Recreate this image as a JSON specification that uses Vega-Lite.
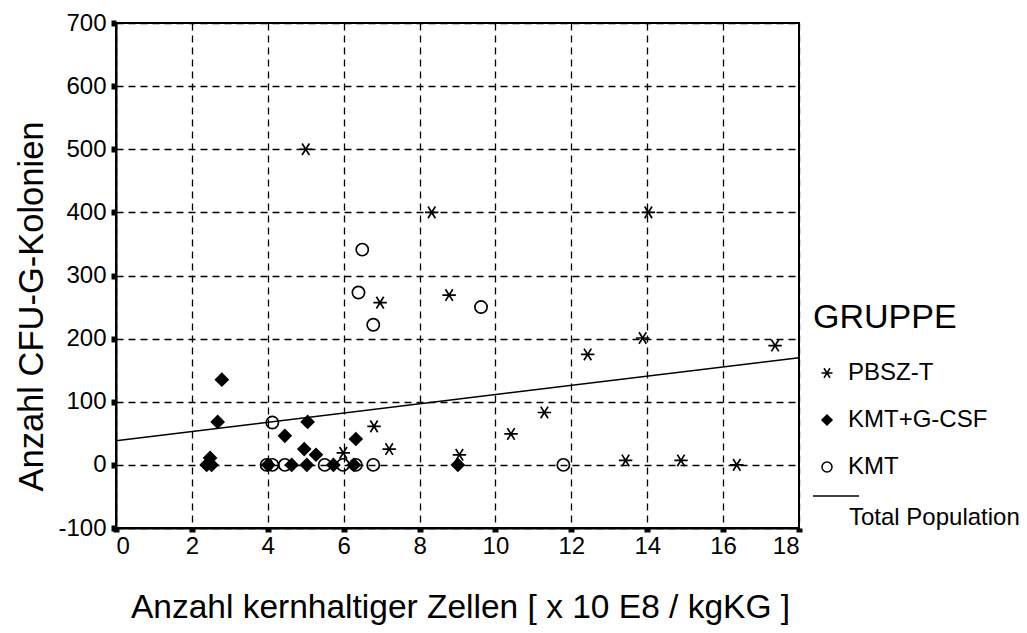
{
  "$schema": "https://vega.github.io/schema/vega-lite/v6.json",
  "width": 683,
  "height": 505,
  "autosize": "none",
  "padding": {"left": 116, "top": 23, "right": 228, "bottom": 105},
  "background": "white",
  "config": {
    "font": "Liberation Sans",
    "view": {"stroke": "black", "strokeWidth": 2},
    "axis": {
      "domainColor": "black",
      "domainWidth": 2,
      "tickColor": "black",
      "labelColor": "black",
      "labelFontSize": 24,
      "titleColor": "black",
      "titleFontWeight": "normal",
      "grid": true,
      "gridColor": "black",
      "gridDash": [7, 5],
      "gridWidth": 1.3,
      "gridOpacity": 1
    },
    "axisX": {"tickSize": 4, "tickWidth": 6, "labelPadding": 2, "titleFontSize": 33.5},
    "axisY": {"tickSize": 5, "tickWidth": 6, "labelPadding": 5, "titleFontSize": 34.5},
    "legend": {
      "titleFontSize": 34,
      "titleFontWeight": "normal",
      "titleColor": "black",
      "labelFontSize": 24,
      "labelColor": "black",
      "labelLimit": 400,
      "symbolStrokeColor": "black",
      "symbolStrokeWidth": 1.5,
      "symbolOpacity": 1,
      "padding": 0,
      "offset": 0
    }
  },
  "layer": [
    {
      "data": {
        "values": [
          {"x": 0, "y": 38.4, "serie": "Total Population"},
          {"x": 18, "y": 169.6, "serie": "Total Population"}
        ]
      },
      "mark": {"type": "line", "strokeWidth": 1.5},
      "encoding": {
        "x": {"field": "x", "type": "quantitative"},
        "y": {"field": "y", "type": "quantitative"},
        "stroke": {
          "field": "serie",
          "type": "nominal",
          "scale": {"range": ["black"]},
          "legend": {
            "title": null,
            "orient": "none",
            "legendX": 696,
            "legendY": 449,
            "symbolType": "stroke",
            "symbolSize": 2116,
            "symbolOffset": 0,
            "labelOffset": -11,
            "labelLimit": 400,
            "encoding": {"labels": {"dy": {"value": 22}}}
          }
        }
      }
    },
    {
      "data": {
        "values": [
          {"x": 5.0, "y": 500, "gruppe": "PBSZ-T"},
          {"x": 8.32, "y": 400, "gruppe": "PBSZ-T"},
          {"x": 14.03, "y": 400, "gruppe": "PBSZ-T"},
          {"x": 8.78, "y": 269, "gruppe": "PBSZ-T"},
          {"x": 6.96, "y": 257, "gruppe": "PBSZ-T"},
          {"x": 13.88, "y": 201, "gruppe": "PBSZ-T"},
          {"x": 17.37, "y": 189, "gruppe": "PBSZ-T"},
          {"x": 12.43, "y": 175, "gruppe": "PBSZ-T"},
          {"x": 11.29, "y": 83, "gruppe": "PBSZ-T"},
          {"x": 6.8, "y": 61, "gruppe": "PBSZ-T"},
          {"x": 10.41, "y": 49, "gruppe": "PBSZ-T"},
          {"x": 7.2, "y": 25, "gruppe": "PBSZ-T"},
          {"x": 5.99, "y": 19, "gruppe": "PBSZ-T"},
          {"x": 9.05, "y": 16, "gruppe": "PBSZ-T"},
          {"x": 13.43, "y": 7, "gruppe": "PBSZ-T"},
          {"x": 14.89, "y": 7, "gruppe": "PBSZ-T"},
          {"x": 16.36, "y": 0, "gruppe": "PBSZ-T"},
          {"x": 2.79, "y": 135, "gruppe": "KMT+G-CSF"},
          {"x": 2.68, "y": 68, "gruppe": "KMT+G-CSF"},
          {"x": 5.05, "y": 68, "gruppe": "KMT+G-CSF"},
          {"x": 4.45, "y": 46, "gruppe": "KMT+G-CSF"},
          {"x": 6.32, "y": 41, "gruppe": "KMT+G-CSF"},
          {"x": 4.96, "y": 25, "gruppe": "KMT+G-CSF"},
          {"x": 5.27, "y": 16, "gruppe": "KMT+G-CSF"},
          {"x": 2.48, "y": 11, "gruppe": "KMT+G-CSF"},
          {"x": 2.39, "y": 0, "gruppe": "KMT+G-CSF"},
          {"x": 2.52, "y": 0, "gruppe": "KMT+G-CSF"},
          {"x": 4.01, "y": 0, "gruppe": "KMT+G-CSF"},
          {"x": 4.63, "y": 0, "gruppe": "KMT+G-CSF"},
          {"x": 5.03, "y": 0, "gruppe": "KMT+G-CSF"},
          {"x": 5.73, "y": 0, "gruppe": "KMT+G-CSF"},
          {"x": 6.27, "y": 0, "gruppe": "KMT+G-CSF"},
          {"x": 9.01, "y": 0, "gruppe": "KMT+G-CSF"},
          {"x": 6.49, "y": 341, "gruppe": "KMT"},
          {"x": 6.39, "y": 273, "gruppe": "KMT"},
          {"x": 6.78, "y": 222, "gruppe": "KMT"},
          {"x": 9.62, "y": 250, "gruppe": "KMT"},
          {"x": 4.12, "y": 67, "gruppe": "KMT"},
          {"x": 3.97, "y": 0, "gruppe": "KMT"},
          {"x": 4.12, "y": 0, "gruppe": "KMT"},
          {"x": 4.45, "y": 0, "gruppe": "KMT"},
          {"x": 5.5, "y": 0, "gruppe": "KMT"},
          {"x": 5.98, "y": 0, "gruppe": "KMT"},
          {"x": 6.32, "y": 0, "gruppe": "KMT"},
          {"x": 6.78, "y": 0, "gruppe": "KMT"},
          {"x": 11.79, "y": 0, "gruppe": "KMT"}
        ]
      },
      "mark": {"type": "point", "stroke": "black", "strokeWidth": 1.7, "opacity": 1, "size": 150},
      "encoding": {
        "x": {
          "field": "x",
          "type": "quantitative",
          "scale": {"domain": [0, 18], "nice": false},
          "axis": {
            "values": [0, 2, 4, 6, 8, 10, 12, 14, 16, 18],
            "title": "Anzahl kernhaltiger Zellen [ x 10 E8 / kgKG ]",
            "titleX": 344,
            "titleY": 79,
            "titleBaseline": "middle",
            "titleAlign": "center"
          }
        },
        "y": {
          "field": "y",
          "type": "quantitative",
          "scale": {"domain": [-100, 700], "nice": false},
          "axis": {
            "values": [-100, 0, 100, 200, 300, 400, 500, 600, 700],
            "labelExpr": "'' + datum.value",
            "title": "Anzahl CFU-G-Kolonien",
            "titleX": -84,
            "titleY": 283,
            "titleBaseline": "middle",
            "titleAlign": "center",
            "titleAngle": -90
          }
        },
        "shape": {
          "field": "gruppe",
          "type": "nominal",
          "scale": {
            "domain": ["PBSZ-T", "KMT+G-CSF", "KMT"],
            "range": ["M-1.1,0L1.1,0M-0.6,-0.95L0.6,0.95M-0.6,0.95L0.6,-0.95", "diamond", "circle"]
          },
          "legend": {
            "title": "GRUPPE",
            "orient": "none",
            "legendX": 697,
            "legendY": 278,
            "symbolSize": 100,
            "symbolOffset": 2,
            "labelOffset": 9,
            "titlePadding": 26,
            "rowPadding": 23,
            "encoding": {"symbols": {"stroke": {"value": "black"}, "strokeWidth": {"value": 1.5}}}
          }
        },
        "fill": {
          "field": "gruppe",
          "type": "nominal",
          "scale": {
            "domain": ["PBSZ-T", "KMT+G-CSF", "KMT"],
            "range": ["transparent", "black", "transparent"]
          },
          "legend": {
            "title": "GRUPPE",
            "orient": "none",
            "legendX": 697,
            "legendY": 278,
            "symbolSize": 100,
            "symbolOffset": 2,
            "labelOffset": 9,
            "titlePadding": 26,
            "rowPadding": 23,
            "encoding": {"symbols": {"stroke": {"value": "black"}, "strokeWidth": {"value": 1.5}}}
          }
        }
      }
    }
  ]
}
